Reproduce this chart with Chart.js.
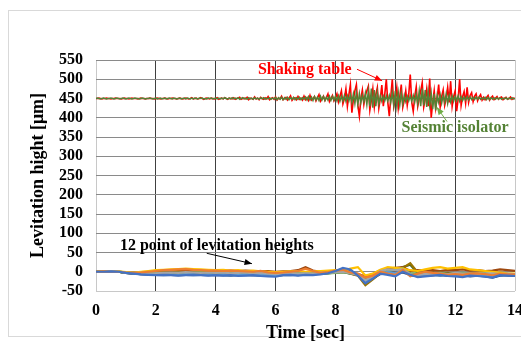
<!DOCTYPE html>
<html>
<head>
<meta charset="utf-8">
<script src="https://cdn.jsdelivr.net/npm/chart.js@4.4.0/dist/chart.umd.min.js"></script>
<style>
  html, body { margin: 0; padding: 0; background: #fff; overflow: hidden; }
  #frame { position: absolute; left: 8px; top: 10px; width: 530px; height: 325px; border: 1px solid #d9d9d9; }
  #wrap { position: absolute; left: 0; top: 0; width: 535px; height: 347px; }
</style>
</head>
<body>
<div id="frame"></div>
<div id="wrap"><canvas id="myChart" width="535" height="347"></canvas></div>
<script>
// sampling clocks (sec)
const fineStep = 0.05;
const coarseStep = 0.25;

// Shaking table, 20 samples per second
const shakingTable = [
  450,450,451,450,449,450,450,451,450,450,449,450,450,451,450,450,450,449,450,451,
  450,450,449,450,451,450,450,450,449,450,451,450,450,449,450,450,451,450,450,449,
  450,451,450,449,450,450,451,450,449,450,450,451,450,450,449,450,451,450,449,450,
  451,450,449,450,452,449,450,451,449,450,452,450,448,450,451,450,449,451,450,449,
  450,452,448,450,451,449,452,450,448,451,450,449,452,448,450,451,453,448,450,451,
  449,453,447,451,450,448,454,449,451,447,453,450,448,452,449,455,447,450,452,448,
  454,446,451,449,456,447,450,453,446,451,457,445,450,452,447,455,448,451,446,456,
  447,452,445,458,446,450,455,444,452,460,443,449,456,445,453,462,442,450,458,444,
  452,462,441,455,470,436,450,475,430,460,486,413,448,470,486,432,404,450,472,435,
  458,470,482,420,445,475,428,460,478,425,450,485,430,462,500,440,404,455,500,430,
  448,478,425,455,486,427,445,470,432,460,512,440,417,455,480,430,450,470,491,428,
  448,475,430,502,400,440,470,425,452,486,428,455,472,432,450,479,440,495,430,455,
  470,417,448,500,432,455,468,438,479,440,458,465,442,456,462,444,454,460,446,453,
  447,453,458,446,452,456,447,451,455,448,452,454,447,451,453,448,450,454,448,451,
  450
];

// Seismic isolator, 20 samples per second
const seismicIsolator = [
  450,451,450,449,450,451,450,449,450,450,451,450,449,450,451,450,449,450,451,450,
  449,450,451,450,449,450,451,450,450,449,450,451,450,449,450,450,451,450,449,450,
  451,449,450,451,449,450,451,449,450,451,450,449,451,450,449,450,451,449,450,451,
  449,451,450,449,451,449,451,450,449,451,450,451,449,450,449,451,450,451,449,450,
  451,449,451,449,451,449,452,450,449,451,449,452,449,451,449,452,448,450,452,449,
  451,448,452,449,451,448,452,449,451,448,452,449,452,448,451,449,452,448,451,449,
  453,447,452,448,453,447,452,448,453,447,452,448,453,447,452,448,453,447,452,448,
  454,446,455,446,454,445,455,446,454,445,456,446,455,445,454,446,456,445,455,446,
  456,444,457,443,456,444,458,443,457,444,460,440,462,437,466,435,463,439,458,442,
  464,434,470,430,476,426,472,430,466,436,457,443,456,444,457,443,458,440,466,432,
  470,430,466,433,464,436,458,442,456,444,457,443,458,441,462,437,470,430,476,432,
  472,428,468,432,464,422,462,419,458,440,460,438,458,440,462,437,458,441,457,443,
  456,444,457,443,455,445,454,446,455,446,454,447,453,447,454,448,453,448,452,448,
  453,447,453,447,452,448,452,448,452,448,452,448,451,449,452,448,451,449,452,449,
  450
];

// 12 levitation points, 4 samples per second
const point1  = [0,0,1,0, -3,-5,-7,-8, -9,-8,-9,-10, -9,-8,-9,-10, -9,-10,-9,-11, -10,-9,-11,-12, -13,-9,-8,-10, -8,-9,-7,-4, 2,10,6,-10, -30,-18,-5,-8, -12,0,-8,-14, -12,-10,-8,-11, -12,-14,-10,-11, -13,-15,-9,-10, -11];
const point2  = [0,1,0,0, -2,-3,-2,0, 2,4,5,6, 7,5,4,3, 3,2,3,2, 1,0,2,-2, -3,-2,0,2, 8,2,-3,-1, 3,5,-2,-5, -15,-10,0,-5, -8,5,-12,-5, 0,-3,-5,-8, -6,-8,-5,-4, -6,-9,-5,-7, -7];
const point3  = [0,0,1,0, -2,-3,-3,-4, -4,-3,-2,-3, -1,-2,-3,-2, -3,-2,-4,-3, -2,-4,-3,-5, -6,-4,-3,-5, -4,-5,-2,-3, -2,0,-4,-8, -22,-12,2,6, 4,6,-6,-10, -5,-6,-4,-7, -3,-5,-4,-6, -5,-4,-6,-5, -6];
const point4  = [0,1,0,1, -1,-2,0,2, 4,5,6,7, 8,7,6,5, 4,5,3,4, 2,3,1,0, -1,0,1,2, 0,1,2,3, 4,3,8,12, -10,-5,5,12, 10,8,4,2, 6,10,12,8, 10,12,6,4, 2,0,-2,-4, -5];
const point5  = [0,0,0,1, -2,-4,-5,-6, -7,-6,-7,-8, -6,-7,-8,-7, -8,-7,-6,-8, -7,-8,-9,-8, -10,-7,-6,-8, -5,-6,-4,-2, 0,4,0,-6, -25,-14,-4,0, -4,4,-10,-8, -8,-6,-9,-7, -9,-8,-10,-9, -8,-12,-7,-6, -8];
const point6  = [0,0,1,0, -3,-3,-4,-3, -3,-2,-3,-2, -3,-2,-1,-2, -3,-2,-3,-2, -3,-4,-3,-4, -5,-3,-4,-3, -4,-5,-3,-4, -3,-1,-4,-6, -18,-10,-2,2, 6,10,-5,-4, -3,-5,-2,-6, -4,-3,-6,-5, -4,-6,-3,-5, -6];
const point7  = [0,0,0,0, -3,-4,-6,-7, -8,-7,-8,-9, -8,-7,-8,-9, -8,-9,-8,-7, -8,-9,-8,-10, -11,-8,-7,-9, -6,-7,-5,-4, -2,6,2,-8, -28,-16,-6,-4, -6,-2,-8,-12, -10,-9,-7,-10, -11,-9,-12,-10, -11,-14,-9,-8, -10];
const point8  = [0,1,0,0, -2,-2,-1,0, 1,2,1,2, 3,2,1,2, 1,2,3,2, 3,2,1,2, 0,1,2,4, 12,3,0,1, 2,4,-3,-6, -12,-6,4,8, 10,12,2,4, 3,4,2,5, 4,6,3,4, 2,3,6,4, 2];
const point9  = [0,0,1,0, -3,-4,-4,-5, -5,-4,-5,-4, -5,-4,-3,-4, -4,-5,-4,-3, -4,-5,-4,-5, -6,-5,-4,-5, -5,-4,-3,-2, -3,-1,-5,-8, -20,-10,0,4, 2,8,-4,-6, -5,-4,-6,-5, -6,-5,-7,-6, -5,-7,-6,-8, -9];
const point10 = [0,1,0,0, -3,-4,-3,-4, -3,-2,-3,-2, -1,-2,-3,-2, -3,-2,-3,-4, -3,-4,-3,-4, -5,-4,-3,-5, -4,-3,-4,-3, -2,2,-5,-10, -35,-20,-4,8, 6,10,22,-2, -4,-2,-5,-3, -6,-4,-3,-5, -8,-6,-5,-7, -8];
const point11 = [0,0,0,1, -3,-5,-6,-7, -8,-9,-8,-7, -8,-9,-8,-7, -8,-9,-10,-9, -8,-9,-10,-9, -10,-8,-9,-8, -7,-6,-5,-3, 1,8,-2,-8, -26,-15,-3,0, -2,3,-9,-11, -9,-8,-10,-9, -10,-11,-9,-10, -12,-15,-10,-9, -10];
const point12 = [0,0,1,0, -3,-3,-4,-3, -2,-3,-2,-1, -2,-3,-2,-1, -2,-3,-2,-1, -2,-3,-2,-3, -4,-3,-2,-3, -2,-3,-1,-2, 0,3,-4,-9, -30,-18,-2,6, 4,12,18,-4, -5,-3,-6,-4, -5,-6,-4,-7, -6,-8,-7,-9, -10];

const points = [point1, point2, point3, point4, point5, point6, point7, point8, point9, point10, point11, point12];
const pointColors = ['#4472C4','#ED7D31','#A5A5A5','#FFC000','#5B9BD5','#70AD47','#264478','#9E480E','#636363','#997300','#255E91','#43682B'];

function toXY(values, step){
  let out = [];
  for(let i = 0; i < values.length; i++){
    out.push({x: +(i * step).toFixed(2), y: values[i]});
  }
  return out;
}

let datasets = [];
datasets.push({ label: 'Shaking table', data: toXY(shakingTable, fineStep), borderColor: '#FF0000', borderWidth: 1.6, order: 3 });
datasets.push({ label: 'Seismic isolator', data: toXY(seismicIsolator, fineStep), borderColor: '#548235', borderWidth: 1.5, order: 2 });
for(let k = 0; k < points.length; k++){
  datasets.push({ label: 'Point ' + (k + 1), data: toXY(points[k], coarseStep), borderColor: pointColors[k], borderWidth: 2.2, order: 1 });
}

const serif = '"Liberation Serif", "Times New Roman", serif';

// text labels and arrows in data coordinates
const notes = [
  { text: 'Shaking table', color: '#FF0000', x: 5.41, y: 524, from: [8.72, 526], to: [9.56, 496] },
  { text: 'Seismic isolator', color: '#548235', x: 10.21, y: 374, from: [11.73, 390], to: [11.39, 427], arrow: '#70AD47' },
  { text: '12 point of levitation heights', color: '#000000', x: 0.80, y: 67, from: [3.70, 48], to: [5.21, 21] }
];

const notePlugin = {
  id: 'notes',
  afterDatasetsDraw(chart){
    const {ctx, scales: {x, y}} = chart;
    ctx.save();
    ctx.font = 'bold 16px ' + serif;
    ctx.textBaseline = 'middle';
    ctx.textAlign = 'left';
    notes.forEach(n => {
      ctx.fillStyle = n.color;
      ctx.fillText(n.text, x.getPixelForValue(n.x), y.getPixelForValue(n.y));
      const x1 = x.getPixelForValue(n.from[0]), y1 = y.getPixelForValue(n.from[1]);
      const x2 = x.getPixelForValue(n.to[0]), y2 = y.getPixelForValue(n.to[1]);
      const c = n.arrow || n.color;
      ctx.strokeStyle = c;
      ctx.fillStyle = c;
      ctx.lineWidth = 1;
      ctx.beginPath();
      ctx.moveTo(x1, y1);
      ctx.lineTo(x2, y2);
      ctx.stroke();
      const a = Math.atan2(y2 - y1, x2 - x1);
      ctx.beginPath();
      ctx.moveTo(x2, y2);
      ctx.lineTo(x2 - 8 * Math.cos(a - 0.4), y2 - 8 * Math.sin(a - 0.4));
      ctx.lineTo(x2 - 8 * Math.cos(a + 0.4), y2 - 8 * Math.sin(a + 0.4));
      ctx.closePath();
      ctx.fill();
    });
    ctx.restore();
  }
};

new Chart(document.getElementById('myChart'), {
  type: 'line',
  data: { datasets: datasets },
  options: {
    responsive: false,
    animation: false,
    layout: { padding: { left: 0, top: 60, right: 20, bottom: 0 } },
    elements: { point: { radius: 0 }, line: { tension: 0 } },
    plugins: { legend: { display: false }, tooltip: { enabled: false } },
    scales: {
      x: {
        type: 'linear',
        min: 0, max: 14,
        ticks: { stepSize: 2, autoSkip: false, maxRotation: 0, color: '#000', padding: 10, font: { family: serif, size: 16, weight: 'bold' } },
        grid: {
          drawTicks: false,
          color: ctx => (ctx.tick && (ctx.tick.value === 0 || ctx.tick.value === 14)) ? '#c8c8c8' : '#404040'
        },
        border: { display: false },
        title: { display: true, text: 'Time [sec]', color: '#000', padding: { top: 0, bottom: 3 }, font: { family: serif, size: 18, weight: 'bold' } },
        afterFit: s => { s.height = 56; }
      },
      y: {
        min: -50, max: 550,
        ticks: { stepSize: 50, autoSkip: false, color: '#000', padding: 13, font: { family: serif, size: 16, weight: 'bold' } },
        grid: {
          drawTicks: false,
          color: ctx => (ctx.tick && ctx.tick.value === -50) ? '#c8c8c8' : '#8a8a8a'
        },
        border: { display: false },
        title: { display: true, text: 'Levitation hight [μm]', color: '#000', padding: { top: 28, bottom: 0 }, font: { family: serif, size: 18, weight: 'bold' } },
        afterFit: s => { s.width = 96; }
      }
    }
  },
  plugins: [notePlugin]
});
</script>
</body>
</html>
